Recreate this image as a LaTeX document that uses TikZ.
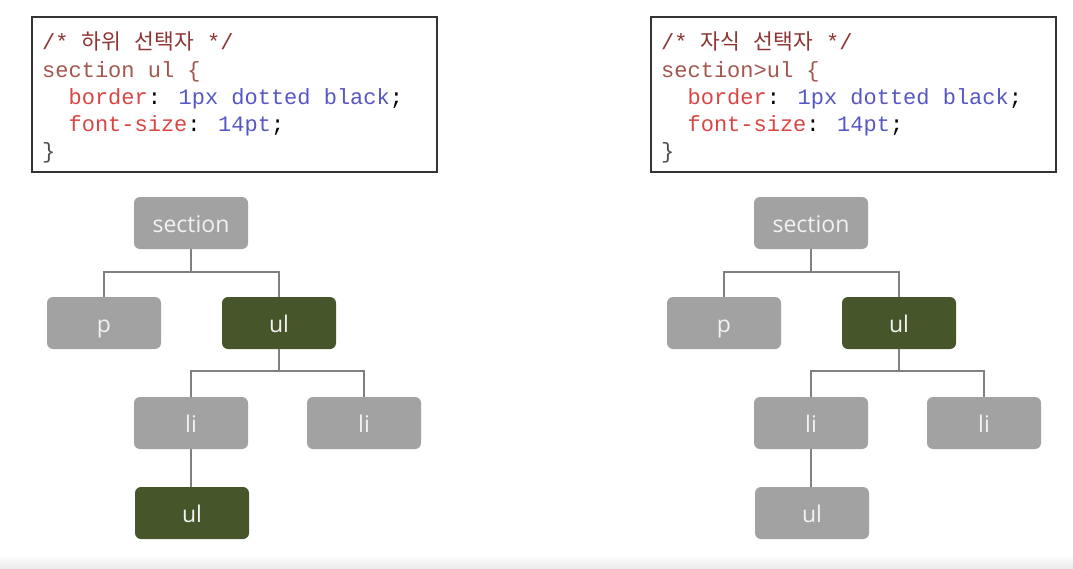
\documentclass[tikz,border=0pt]{standalone}
\usepackage{fontspec}
\newfontfamily\codefont{Liberation Mono}
\newfontfamily\cjk{Noto Sans CJK KR}
\newfontfamily\nodefont{Open Sans}
\definecolor{cmtred}{HTML}{8E3434}
\definecolor{selred}{HTML}{A3554F}
\definecolor{propred}{HTML}{DC4444}
\definecolor{valblue}{HTML}{5656C4}
\definecolor{boxgray}{HTML}{A2A2A2}
\definecolor{boxgreen}{HTML}{47562A}
\definecolor{linegray}{HTML}{808080}
\newcommand\cmt[1]{\textcolor{cmtred}{#1}}
\newcommand\sel[1]{\textcolor{selred}{#1}}
\newcommand\prop[1]{\textcolor{propred}{#1}}
\newcommand\val[1]{\textcolor{valblue}{#1}}
\newcommand\kor[1]{{\cjk\fontsize{21.5}{27}\selectfont #1}}
\tikzset{
  codebox/.style={draw=black!80, line width=1.3pt, minimum width=405pt, minimum height=155pt, inner sep=0pt},
  codeline/.style={anchor=base west, inner sep=0pt, font=\codefont\fontsize{22}{27}\selectfont},
  elem/.style={fill=boxgray, rounded corners=6pt, minimum width=114pt, minimum height=52pt,
    inner sep=0pt, text height=19pt, text depth=0pt, text=white!95!black,
    font=\nodefont\fontsize{23}{26}\selectfont},
  hit/.style={elem, fill=boxgreen},
  conn/.style={draw=linegray, line width=1.6pt}
}
\begin{document}
\begin{tikzpicture}[x=1pt, y=-1pt]
  \useasboundingbox (0,0) rectangle (1073,568);
  \shade[top color=white, bottom color=black!8] (0,554) rectangle (1073,568);

  % descendant selector
  \node[codebox] (lbox) at (234.5,94.5) {};
  \node[codeline] (l1) at (42,49) {\cmt{/* \kor{하위} \kor{선택자} */}};
  \node[codeline] (l2) at (42,77) {\sel{section ul \{}};
  \node[codeline] (l3) at (42,104) {\ \ \prop{border}: \val{1px dotted black};};
  \node[codeline] (l4) at (42,131) {\ \ \prop{font-size}: \val{14pt};};
  \node[codeline] (l5) at (42,158) {\textcolor{black!70}{\}}};

  \node[elem] (sec) at (191,223) {section};
  \node[elem] (p) at (104,323) {p};
  \node[hit] (ul) at (279,323) {ul};
  \node[elem] (li) at (191,423) {li};
  \node[elem] (li2) at (364,423) {li};
  \node[hit] (ulb) at (192,513) {ul};
  \draw[conn] (sec.south) -- ++(0,23) -| (p.north);
  \draw[conn] (sec.south) -- ++(0,23) -| (ul.north);
  \draw[conn] (ul.south) -- ++(0,22) -| (li.north);
  \draw[conn] (ul.south) -- ++(0,22) -| (li2.north);
  \draw[conn] (li.south) -- (li.south |- ulb.north);

  % child selector
  \node[codebox] (rbox) at (853.5,94.5) {};
  \node[codeline] (r1) at (661,49) {\cmt{/* \kor{자식} \kor{선택자} */}};
  \node[codeline] (r2) at (661,77) {\sel{section>ul \{}};
  \node[codeline] (r3) at (661,104) {\ \ \prop{border}: \val{1px dotted black};};
  \node[codeline] (r4) at (661,131) {\ \ \prop{font-size}: \val{14pt};};
  \node[codeline] (r5) at (661,158) {\textcolor{black!70}{\}}};

  \node[elem] (rsec) at (811,223) {section};
  \node[elem] (rp) at (724,323) {p};
  \node[hit] (rul) at (899,323) {ul};
  \node[elem] (rli) at (811,423) {li};
  \node[elem] (rli2) at (984,423) {li};
  \node[elem] (rulb) at (812,513) {ul};
  \draw[conn] (rsec.south) -- ++(0,23) -| (rp.north);
  \draw[conn] (rsec.south) -- ++(0,23) -| (rul.north);
  \draw[conn] (rul.south) -- ++(0,22) -| (rli.north);
  \draw[conn] (rul.south) -- ++(0,22) -| (rli2.north);
  \draw[conn] (rli.south) -- (rli.south |- rulb.north);
\end{tikzpicture}
\end{document}
